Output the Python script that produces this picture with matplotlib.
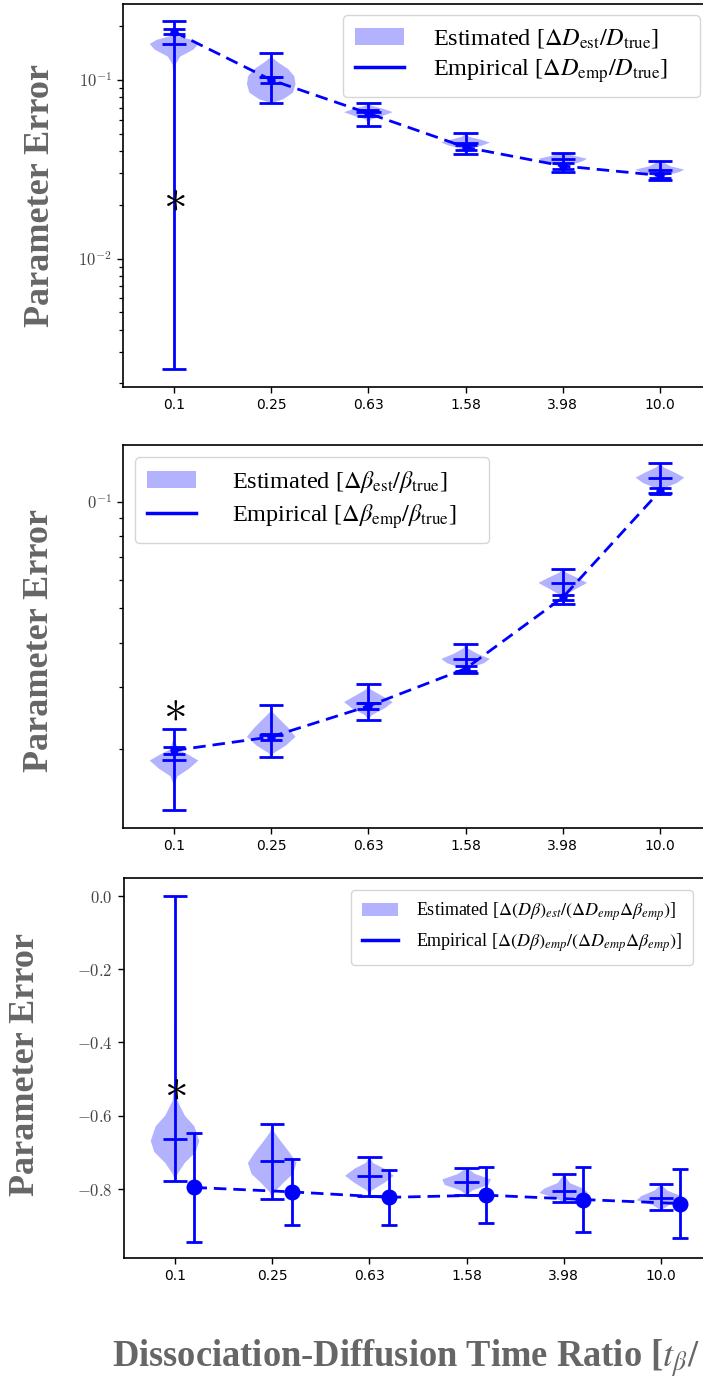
import numpy as np
import matplotlib
matplotlib.use('Agg')
import matplotlib.pyplot as plt
from matplotlib.patches import Patch, Rectangle
from matplotlib.lines import Line2D
from matplotlib import ticker
from matplotlib import font_manager as fm
from matplotlib.font_manager import FontProperties

# ---------------- data ----------------
tick_labels = ['0.1', '0.25', '0.63', '1.58', '3.98', '10.0']
positions = [1, 2, 3, 4, 5, 6]

# Panel 1: D
D_emp = [0.186, 0.100, 0.065, 0.042, 0.033, 0.0292]
D_emp_err = [0.006, 0.004, 0.0025, 0.0015, 0.0012, 0.001]
D_est_mean = [0.159, 0.104, 0.0665, 0.0446, 0.0360, 0.0313]
D_est_min = [0.00242, 0.0741, 0.0553, 0.0385, 0.0307, 0.0276]
D_est_max = [0.214, 0.141, 0.0741, 0.0503, 0.0392, 0.0353]
D_est_coords = [
    [0.00242, 0.10, 0.122, 0.135, 0.148, 0.159, 0.168, 0.176, 0.19, 0.214],
    [0.0741, 0.078, 0.085, 0.095, 0.105, 0.115, 0.125, 0.133, 0.141],
    [0.0553, 0.060, 0.063, 0.066, 0.069, 0.0715, 0.0741],
    [0.0385, 0.041, 0.043, 0.0446, 0.046, 0.048, 0.0503],
    [0.0307, 0.0330, 0.0350, 0.0362, 0.0375, 0.0392],
    [0.0276, 0.0290, 0.0305, 0.0315, 0.0328, 0.0353],
]
D_est_density = [
    [0.0, 0.02, 0.06, 0.25, 0.8, 1.0, 0.7, 0.15, 0.02, 0.0],
    [0.0, 0.5, 0.9, 1.0, 0.95, 0.7, 0.3, 0.05, 0.0],
    [0.0, 0.1, 0.6, 1.0, 0.6, 0.15, 0.0],
    [0.0, 0.15, 0.7, 1.0, 0.7, 0.15, 0.0],
    [0.0, 0.2, 0.8, 1.0, 0.5, 0.0],
    [0.0, 0.2, 0.8, 1.0, 0.45, 0.0],
]

# Panel 2: beta
B_emp = [0.01986, 0.0217, 0.0265, 0.0338, 0.0537, 0.1072]
B_emp_err = [0.0004, 0.0004, 0.0005, 0.0006, 0.001, 0.002]
B_est_mean = [0.01862, 0.02191, 0.0271, 0.0361, 0.0588, 0.1167]
B_est_min = [0.01353, 0.01903, 0.02427, 0.03294, 0.0514, 0.1058]
B_est_max = [0.02278, 0.02663, 0.03053, 0.0398, 0.0648, 0.1286]
B_est_coords = [
    [0.01353, 0.0160, 0.0168, 0.0176, 0.0186, 0.0193, 0.0200, 0.0215, 0.02278],
    [0.01903, 0.0195, 0.0205, 0.0217, 0.0230, 0.0245, 0.0255, 0.02663],
    [0.02427, 0.0250, 0.0262, 0.0272, 0.0282, 0.0295, 0.03053],
    [0.03294, 0.0340, 0.0350, 0.0360, 0.0372, 0.0385, 0.0398],
    [0.0514, 0.0545, 0.0570, 0.0590, 0.0610, 0.0630, 0.0648],
    [0.1058, 0.109, 0.113, 0.117, 0.121, 0.125, 0.1286],
]
B_est_density = [
    [0.0, 0.03, 0.15, 0.6, 1.0, 0.6, 0.15, 0.02, 0.0],
    [0.0, 0.1, 0.6, 1.0, 0.7, 0.3, 0.05, 0.0],
    [0.0, 0.15, 0.7, 1.0, 0.6, 0.1, 0.0],
    [0.0, 0.2, 0.75, 1.0, 0.5, 0.1, 0.0],
    [0.0, 0.1, 0.6, 1.0, 0.6, 0.15, 0.0],
    [0.0, 0.15, 0.7, 1.0, 0.6, 0.15, 0.0],
]

# Panel 3: D*beta correlation
C_emp = [-0.797, -0.809, -0.824, -0.818, -0.830, -0.841]
C_emp_err = [0.148, 0.090, 0.076, 0.077, 0.089, 0.095]
C_est_mean = [-0.663, -0.724, -0.765, -0.782, -0.807, -0.827]
C_est_min = [-0.779, -0.829, -0.820, -0.818, -0.837, -0.859]
C_est_max = [0.0, -0.622, -0.713, -0.743, -0.761, -0.788]
C_est_coords = [
    [-0.779, -0.76, -0.73, -0.70, -0.67, -0.63, -0.60, -0.56, -0.50, -0.30, 0.0],
    [-0.829, -0.81, -0.785, -0.76, -0.73, -0.70, -0.67, -0.645, -0.622],
    [-0.820, -0.805, -0.785, -0.765, -0.745, -0.73, -0.713],
    [-0.818, -0.805, -0.79, -0.775, -0.76, -0.743],
    [-0.837, -0.825, -0.812, -0.800, -0.785, -0.761],
    [-0.859, -0.845, -0.832, -0.82, -0.805, -0.788],
]
C_est_density = [
    [0.0, 0.1, 0.4, 0.85, 1.0, 0.8, 0.4, 0.1, 0.02, 0.005, 0.0],
    [0.0, 0.1, 0.45, 0.85, 1.0, 0.7, 0.35, 0.08, 0.0],
    [0.0, 0.1, 0.6, 1.0, 0.6, 0.15, 0.0],
    [0.0, 0.25, 0.9, 1.0, 0.35, 0.0],
    [0.0, 0.4, 1.0, 0.8, 0.25, 0.0],
    [0.0, 0.35, 1.0, 0.8, 0.25, 0.0],
]

star_y = [0.0219, 0.0261, -0.521]

# ---------------- style ----------------
plt.rcParams['mathtext.fontset'] = 'cm'


def has_font(name):
    try:
        fm.findfont(FontProperties(family=name), fallback_to_default=False)
        return True
    except Exception:
        return False


if has_font('Liberation Sans Narrow'):
    XT_FONT, XT_SIZE = 'Liberation Sans Narrow', 12
else:
    XT_FONT, XT_SIZE = 'DejaVu Sans', 10

SERIF = 'Liberation Serif'
BLUE = 'blue'
LABEL_GREY = '#666666'
TICK_GREY = '#444444'

W, H = 703, 1392
fig = plt.figure(figsize=(W / 100, H / 100), dpi=100)


def rect(left, top, right, bottom):
    return [left / W, 1 - bottom / H, (right - left) / W, (bottom - top) / H]


ax1 = fig.add_axes(rect(123, 4, 711, 387))
ax2 = fig.add_axes(rect(123, 445, 711, 828))
ax3 = fig.add_axes(rect(124, 878, 712, 1258))


def draw_violins(ax, coords, dens, mins, maxs, means):
    stats = []
    for c, d, lo, hi, m in zip(coords, dens, mins, maxs, means):
        stats.append(dict(coords=np.asarray(c, float), vals=np.asarray(d, float),
                          mean=m, median=m, min=lo, max=hi))
    parts = ax.violin(stats, positions=positions, widths=0.5,
                      showmeans=True, showextrema=True)
    for b in parts['bodies']:
        b.set_facecolor(BLUE)
        b.set_edgecolor('none')
        b.set_alpha(0.3)
    for k in ('cmeans', 'cmins', 'cmaxes', 'cbars'):
        parts[k].set_color(BLUE)
        parts[k].set_linewidth(2)


def style_axes(ax):
    ax.set_xlim(0.475, 6.525)
    ax.set_xticks(positions)
    ax.set_xticklabels(tick_labels, fontfamily=XT_FONT, fontsize=XT_SIZE, color='black')
    for s in ax.spines.values():
        s.set_linewidth(1.2)
    ax.tick_params(axis='x', length=4.5, width=1.0)
    ax.tick_params(axis='y', which='major', length=4.5, width=1.0,
                   labelsize=12, labelcolor=TICK_GREY)
    ax.tick_params(axis='y', which='minor', length=3, width=0.9)


def log_fmt(v, p):
    e = int(round(np.log10(v)))
    return r'$10^{%d}$' % e


def lin_fmt(v, p):
    if abs(v) < 1e-9:
        v = 0.0
    return r'$%.1f$' % v


def add_legend(ax, labels, size, anchor_px, loc, pad=0.4, lspace=0.5, tpad=0.8):
    handles = [Patch(facecolor=BLUE, alpha=0.3, edgecolor='none'),
               Line2D([], [], color=BLUE, lw=2.5)]
    prop = FontProperties(family=SERIF, size=size, math_fontfamily='stix')
    leg = ax.legend(handles, labels, prop=prop, loc=loc,
                    bbox_to_anchor=(anchor_px[0] / W, 1 - anchor_px[1] / H),
                    bbox_transform=fig.transFigure, borderaxespad=0,
                    borderpad=pad, labelspacing=lspace, handletextpad=tpad)
    return leg


def star(ax, y):
    ax.text(1, y, r'$*$', fontsize=34, ha='center', va='center', color='black',
            math_fontfamily='cm', zorder=5)


# ---- panel 1 ----
ax1.set_yscale('log')
draw_violins(ax1, D_est_coords, D_est_density, D_est_min, D_est_max, D_est_mean)
ax1.plot(positions, D_emp, color=BLUE, lw=2, ls='--', dashes=(4.5, 2.5))
ax1.errorbar(positions, D_emp, yerr=D_emp_err, fmt='o', color=BLUE, ms=5,
             elinewidth=2, capsize=8, capthick=2)
ax1.set_ylim(0.00191, 0.2662)
ax1.yaxis.set_major_formatter(ticker.FuncFormatter(log_fmt))
ax1.yaxis.set_minor_formatter(ticker.NullFormatter())
style_axes(ax1)
star(ax1, star_y[0])
add_legend(ax1, [r'Estimated [$\Delta D_{\rm est}/D_{\rm true}$]    ',
                 r'Empirical [$\Delta D_{\rm emp}/D_{\rm true}$]    '],
           17.5, (700, 15), 'upper right', pad=0.5, lspace=0.3, tpad=1.2)

# ---- panel 2 ----
ax2.set_yscale('log')
draw_violins(ax2, B_est_coords, B_est_density, B_est_min, B_est_max, B_est_mean)
ax2.plot(positions, B_emp, color=BLUE, lw=2, ls='--', dashes=(4.5, 2.5))
ax2.errorbar(positions, B_emp, yerr=B_emp_err, fmt='o', color=BLUE, ms=5,
             elinewidth=2, capsize=8, capthick=2)
ax2.set_ylim(0.0120, 0.1446)
ax2.yaxis.set_major_formatter(ticker.FuncFormatter(log_fmt))
ax2.yaxis.set_minor_formatter(ticker.NullFormatter())
style_axes(ax2)
star(ax2, star_y[1])
add_legend(ax2, [r'Estimated [$\Delta \beta_{\rm est}/\beta_{\rm true}$]    ',
                 r'Empirical [$\Delta \beta_{\rm emp}/\beta_{\rm true}$]    '],
           17.5, (135, 457), 'upper left', pad=0.5, lspace=0.3, tpad=1.5)

# ---- panel 3 ----
draw_violins(ax3, C_est_coords, C_est_density, C_est_min, C_est_max, C_est_mean)
x_off = [p + 0.2 for p in positions]
ax3.plot(x_off, C_emp, color=BLUE, lw=2, ls='--', dashes=(4.5, 2.5))
ax3.errorbar(x_off, C_emp, yerr=C_emp_err, fmt='o', color=BLUE, ms=10.5,
             elinewidth=2, capsize=6, capthick=2)
ax3.set_ylim(-0.99, 0.05)
ax3.set_yticks([0.0, -0.2, -0.4, -0.6, -0.8])
ax3.yaxis.set_major_formatter(ticker.FuncFormatter(lin_fmt))
style_axes(ax3)
star(ax3, star_y[2])
add_legend(ax3, [r'Estimated [$\Delta(D\beta)_{est}/(\Delta D_{emp}\Delta\beta_{emp})$]',
                 r'Empirical [$\Delta(D\beta)_{emp}/(\Delta D_{emp}\Delta\beta_{emp})$]'],
           13, (693, 890), 'upper right', pad=0.6, lspace=0.45, tpad=1.0)

# ---- labels ----
ylab = dict(rotation=90, ha='center', va='center', fontsize=26, fontweight='bold',
            family=SERIF, color=LABEL_GREY)
fig.text(41 / W, 1 - 195.5 / H, 'Parameter Error', **ylab)
fig.text(40 / W, 1 - 640 / H, 'Parameter Error', **ylab)
fig.text(26 / W, 1 - 1064 / H, 'Parameter Error', **ylab)

# visible part of the x-axis title (the reference crops it at the right edge)
fig.text(112 / W, 1 - 1367 / H, r'Dissociation-Diffusion Time Ratio [$t_\beta/$',
         fontsize=26.3, fontweight='bold', family=SERIF, color=LABEL_GREY,
         ha='left', va='baseline', math_fontfamily='stix')

# white strip partly covering the middle panel's tick label, as in the reference
fig.patches.append(Rectangle((55 / W, 1 - 530 / H), 32 / W, 60 / H,
                             transform=fig.transFigure, facecolor='white',
                             edgecolor='none', zorder=10))

fig.savefig('out.png', dpi=100)
